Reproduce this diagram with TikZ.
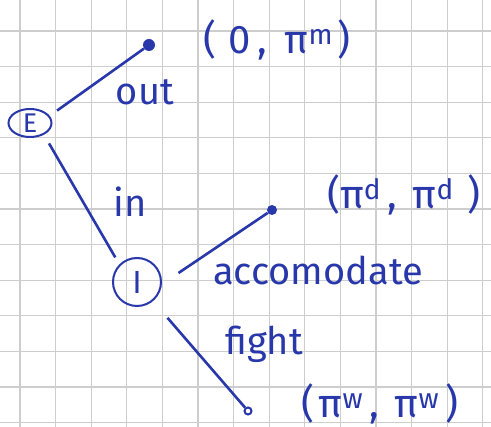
\documentclass[tikz,border=0pt]{standalone}
\usepackage{fontspec}
\setmainfont{Fira Sans}
\usetikzlibrary{shapes.geometric}
\definecolor{ink}{RGB}{40,55,170}
\definecolor{gridc}{RGB}{205,205,205}
\tikzset{
  gridline/.style={gridc, line width=1.3pt},
  edge/.style={ink, line width=2.6pt},
  player/.style={draw=ink, line width=2pt, text=ink, inner sep=0pt},
  enddot/.style={circle, fill=ink, inner sep=0pt},
  lbl/.style={text=ink, font=\fontsize{38}{38}\selectfont},
  pay/.style={text=ink, font=\fontsize{40}{40}\selectfont}
}
\begin{document}
\begin{tikzpicture}[x=1pt,y=-1pt]
\useasboundingbox (0,0) rectangle (491,427);
\fill[white] (0,0) rectangle (491,427);
\foreach \i in {0,...,13} \draw[gridline] ({20+35.6*\i},0) -- ({20+35.6*\i},427);
\foreach \j in {0,...,11} \draw[gridline] (0,{31+35.6*\j}) -- (491,{31+35.6*\j});

\node[player, ellipse, minimum width=43pt, minimum height=28pt, font=\fontsize{27}{27}\selectfont] (E) at (30,123) {E};
\node[player, circle, minimum size=48pt, font=\fontsize{32}{32}\selectfont] (I) at (137,282) {I};
\node[enddot, minimum size=12pt] (out) at (149,45) {};
\node[enddot, minimum size=10pt] (acc) at (272,210) {};
\node[circle, draw=ink, line width=2pt, fill=white, inner sep=0pt, minimum size=7pt] (fight) at (248,411) {};

\draw[edge, shorten <=9pt] (E.20) -- (out);
\draw[edge, shorten <=10pt, shorten >=8pt] (E.-40) -- (I.135);
\draw[edge, shorten <=20pt] (I.-5) -- (acc);
\draw[edge, shorten <=22pt] (I.-50) -- (fight);

\node[lbl] (lout) at (145,92) {out};
\node[lbl] (lin) at (130,202) {in};
\node[lbl] (lacc) at (318,270) {accomodate};
\node[lbl] (lfight) at (264,344) {fight};

\node[pay] (pout) at (277,40) {(\hspace{12pt}0\hspace{6pt},\hspace{18pt}π\textsuperscript{m}\hspace{4pt})};
\node[pay] (pacc) at (404,195) {(π\textsuperscript{d}\hspace{6pt},\hspace{16pt}π\textsuperscript{d}\hspace{14pt})};
\node[pay] (pfight) at (380,404) {(\hspace{4pt}π\textsuperscript{w}\hspace{6pt},\hspace{16pt}π\textsuperscript{w}\hspace{6pt})};
\end{tikzpicture}
\end{document}
